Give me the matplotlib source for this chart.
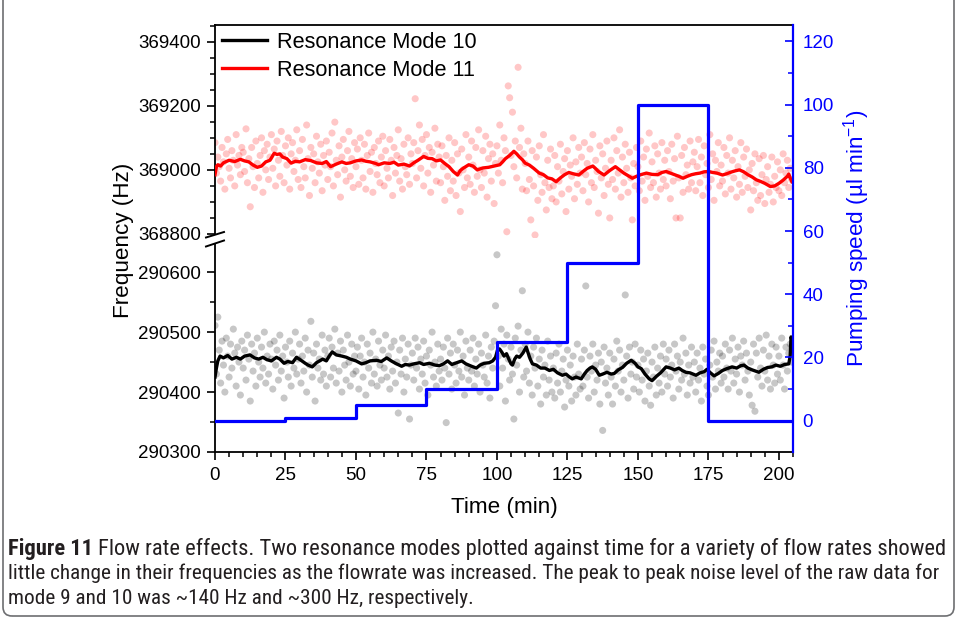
import numpy as np
import matplotlib
matplotlib.use("Agg")
import matplotlib.pyplot as plt
from matplotlib import font_manager
from matplotlib.patches import FancyBboxPatch, Polygon
from matplotlib.lines import Line2D
from matplotlib.ticker import MultipleLocator
from matplotlib.transforms import IdentityTransform

# ---------------- data ----------------
SAMPLE_STEP = 0.5  # min between raw samples

# Resonance mode 11 raw points (Hz)
MODE11_RAW = [
    369085, 368990, 369040, 369010, 368965, 369070, 369025, 368940, 369050, 369095, 369005, 368975, 369060, 369030, 368950, 369110, 369015, 369045, 368985, 369070,
    369055, 368995, 369128, 368960, 369035, 368885, 369070, 369010, 368945, 369090, 369020, 368975, 369045, 369100, 368930, 369060, 369000, 369080, 368970, 369040,
    369110, 369005, 369065, 368950, 369090, 369030, 368980, 369120, 369045, 368960, 369075, 369015, 369100, 368940, 369050, 369085, 368995, 369030, 369125, 368970,
    369060, 368945, 369095, 369010, 368975, 369140, 369035, 368920, 369070, 369005, 369050, 368960, 369105, 369025, 368990, 369080, 368935, 369045, 369015, 369090,
    368970, 369055, 369010, 369115, 368950, 369149, 369030, 368985, 369075, 368915, 369040, 369095, 369000, 368965, 369060, 369120, 368980, 369035, 368945, 369085,
    369010, 369065, 368955, 369100, 369030, 368975, 369080, 368940, 369045, 369115, 368995, 369055, 368930, 369070, 369020, 368985, 369090, 368960, 369040, 369105,
    368950, 369060, 369005, 368975, 369095, 369030, 368920, 369070, 368990, 369045, 369125, 368965, 369035, 368940, 369080, 369010, 368985, 369100, 368955, 369050,
    369020, 369085, 369222, 368975, 369060, 369140, 369005, 369095, 368950, 369045, 369110, 368990, 369070, 368930, 369055, 369015, 369130, 368965, 369080, 369040,
    368960, 369075, 369010, 368905, 369045, 368980, 369100, 368935, 369030, 368965, 369085, 368920, 369050, 368990, 368870, 369065, 369000, 368945, 369110, 368975,
    369040, 368955, 369090, 369015, 368930, 369070, 368980, 369125, 369000, 368945, 369060, 368990, 369105, 368915, 369035, 369080, 368965, 369050, 368895, 369020,
    369075, 368990, 369140, 369030, 368960, 369100, 369060, 368807, 369262, 369225, 369045, 369180, 369010, 369090, 368975, 369320, 369070, 369130, 368940, 369050,
    369020, 368935, 369090, 368970, 368844, 369060, 368950, 368797, 369040, 368905, 369075, 368985, 368930, 369110, 368960, 368875, 369030, 368945, 369065, 368910,
    368950, 369045, 368900, 369010, 368965, 369080, 368925, 368995, 369035, 368870, 369060, 368940, 369015, 368980, 369100, 368910, 369025, 368955, 369070, 368990,
    369040, 368935, 369085, 368985, 369020, 368900, 369065, 368960, 369110, 368945, 369030, 368995, 368865, 369075, 368975, 369050, 368920, 369005, 369090, 368955,
    368850, 369030, 368970, 369100, 368940, 369060, 368990, 369125, 368915, 369040, 368960, 369080, 369005, 368930, 369055, 368975, 368844, 369020, 368950, 369070,
    369010, 368935, 369090, 368965, 369040, 368905, 369065, 368980, 369115, 368945, 369025, 368960, 369075, 368915, 369050, 368990, 368940, 369085, 368970, 369030,
    368950, 369060, 368995, 368910, 369080, 368965, 369035, 368850, 369105, 368975, 368850, 369045, 368930, 369070, 368985, 369015, 368940, 369090, 368960, 369025,
    369055, 368935, 369010, 369095, 368960, 369040, 368920, 369075, 368985, 369020, 368945, 369110, 368970, 369050, 368905, 369030, 368995, 369085, 368950, 369015,
    368965, 369070, 368925, 369045, 368990, 369100, 368940, 369030, 368975, 369060, 368915, 369010, 368955, 369085, 368930, 369040, 368980, 369065, 368945, 369000,
    368875, 369020, 368935, 369050, 368960, 368905, 369035, 368920, 368985, 369045, 368895, 368970, 369010, 368930, 368955, 369040, 368900, 368980, 368945, 369025,
    368935, 369000, 368920, 369050, 368960, 368990, 369030, 368945, 369005, 368970,
]

# Resonance mode 10 raw points (Hz)
MODE10_RAW = [
    290511, 290430, 290525, 290470, 290415, 290485, 290445, 290400, 290490, 290460, 290425, 290480, 290440, 290505, 290465, 290410, 290475, 290450, 290395, 290485,
    290440, 290470, 290420, 290495, 290455, 290385, 290480, 290435, 290465, 290410, 290490, 290450, 290425, 290475, 290440, 290500, 290415, 290460, 290430, 290480,
    290455, 290405, 290485, 290445, 290470, 290420, 290495, 290435, 290460, 290390, 290475, 290450, 290425, 290485, 290410, 290465, 290440, 290500, 290430, 290455,
    290480, 290415, 290460, 290435, 290490, 290400, 290470, 290445, 290518, 290425, 290465, 290385, 290480, 290440, 290455, 290420, 290495, 290430, 290470, 290410,
    290460, 290490, 290425, 290475, 290440, 290505, 290415, 290465, 290435, 290485, 290400, 290470, 290445, 290420, 290495, 290450, 290410, 290480, 290430, 290460,
    290435, 290475, 290405, 290460, 290490, 290425, 290450, 290395, 290480, 290440, 290465, 290415, 290500, 290430, 290455, 290410, 290485, 290445, 290420, 290470,
    290440, 290495, 290425, 290460, 290405, 290475, 290435, 290485, 290415, 290450, 290365, 290470, 290430, 290490, 290400, 290455, 290425, 290480, 290355, 290445,
    290465, 290420, 290490, 290440, 290475, 290405, 290455, 290430, 290485, 290415, 290460, 290395, 290470, 290445, 290500, 290425, 290450, 290410, 290480, 290435,
    290455, 290420, 290475, 290440, 290349, 290490, 290430, 290465, 290405, 290480, 290445, 290415, 290470, 290435, 290500, 290425, 290460, 290395, 290485, 290440,
    290420, 290470, 290435, 290490, 290410, 290455, 290430, 290480, 290400, 290465, 290445, 290425, 290495, 290415, 290460, 290390, 290475, 290440, 290485, 290544,
    290629, 290460, 290410, 290505, 290440, 290480, 290385, 290495, 290455, 290420, 290475, 290430, 290355, 290490, 290445, 290510, 290400, 290470, 290569, 290425,
    290480, 290435, 290500, 290415, 290460, 290395, 290475, 290440, 290490, 290410, 290455, 290380, 290470, 290425, 290445, 290395, 290485, 290420, 290460, 290400,
    290440, 290390, 290465, 290415, 290480, 290400, 290435, 290455, 290375, 290420, 290470, 290410, 290445, 290385, 290460, 290425, 290395, 290480, 290430, 290405,
    290455, 290410, 290470, 290577, 290425, 290390, 290460, 290435, 290480, 290400, 290445, 290420, 290465, 290380, 290450, 290336, 290475, 290415, 290440, 290395,
    290465, 290425, 290380, 290455, 290410, 290485, 290435, 290470, 290400, 290445, 290420, 290562, 290460, 290390, 290475, 290430, 290450, 290405, 290480, 290425,
    290445, 290400, 290470, 290420, 290455, 290385, 290435, 290465, 290410, 290378, 290450, 290425, 290475, 290395, 290440, 290415, 290460, 290400, 290480, 290430,
    290455, 290410, 290470, 290425, 290445, 290390, 290480, 290435, 290460, 290405, 290450, 290420, 290490, 290430, 290465, 290395, 290445, 290415, 290475, 290425,
    290450, 290400, 290465, 290420, 290440, 290385, 290475, 290430, 290455, 290410, 290395, 290445, 290470, 290425, 290485, 290405, 290450, 290435, 290465, 290415,
    290460, 290425, 290480, 290440, 290405, 290470, 290435, 290490, 290415, 290455, 290430, 290475, 290400, 290460, 290445, 290485, 290420, 290465, 290435, 290395,
    290450, 290378, 290480, 290368, 290465, 290425, 290490, 290440, 290410, 290470, 290435, 290495, 290420, 290460, 290405, 290480, 290445, 290415, 290475, 290430,
    290460, 290420, 290490, 290445, 290405, 290475, 290435, 290465, 290480, 290450,
]

# Smoothed mode 11 (time min, Hz)
MODE11_SMOOTH_T = [0, 0.5, 1, 2, 3, 5, 7, 9, 10.5, 12, 13.5, 15, 16.5, 18, 19.5, 21, 22, 23, 24, 25.5,
                   27, 28.5, 30, 32, 34, 36, 38, 39.5, 41, 43, 45, 46.5, 48, 50, 52, 53.5, 55, 57, 58, 60,
                   62, 63.5, 65, 67, 69, 70.5, 72, 74, 75.5, 77, 78.5, 80, 81.5, 83, 84.5, 86, 87, 88, 90, 91.5,
                   93, 95, 97, 99, 101, 102, 103, 104.5, 106, 107, 108, 109, 110, 111.5, 113, 115, 116.5, 118, 119.5, 121,
                   122.5, 124, 125.5, 127, 129, 130.5, 132, 134, 135, 136, 138, 140, 142, 143.5, 145, 146.5, 148, 149.5, 151, 153,
                   155, 157, 158.5, 160, 161.5, 163, 164.5, 166, 167.5, 169, 170.5, 172, 173.5, 175, 176.5, 178, 180, 181.5, 183, 184.5,
                   186, 187.5, 189, 190.5, 192, 193.5, 195, 197, 198.5, 200, 201.5, 203, 203.5, 204, 204.6]
MODE11_SMOOTH_F = [368985, 369010, 369016, 369012, 369022, 369030, 369026, 369033, 369028, 369025, 369015, 369008, 369012, 369025, 369030, 369052, 369048, 369050, 369040, 369035,
                   369021, 369027, 369025, 369032, 369029, 369022, 369020, 369026, 369010, 369018, 369025, 369020, 369022, 369028, 369031, 369027, 369025, 369020, 369016, 369022,
                   369020, 369024, 369015, 369018, 369012, 369022, 369030, 369042, 369036, 369035, 369028, 369031, 369020, 369010, 368995, 368984, 368998, 369005, 369016, 369012,
                   369000, 369006, 369008, 369012, 369016, 369025, 369035, 369045, 369058, 369050, 369040, 369032, 369021, 369015, 369005, 368990, 368985, 368975, 368972, 368963,
                   368975, 368985, 368992, 368988, 368984, 368995, 369005, 369012, 369004, 368995, 368984, 368998, 369010, 369000, 368990, 368982, 368974, 368980, 368985, 368990,
                   368986, 368985, 368992, 368995, 368990, 368985, 368980, 368974, 368980, 368985, 368988, 368990, 368994, 368995, 368992, 368990, 368984, 368988, 368993, 368997,
                   369000, 368994, 368985, 368978, 368969, 368964, 368958, 368948, 368950, 368958, 368968, 368980, 368987, 368975, 368963]

# Smoothed mode 10 (time min, Hz)
MODE10_SMOOTH_T = [0, 0.5, 1, 1.8, 3, 4.5, 6, 7.6, 9, 10.5, 12.4, 14, 15.5, 17, 18.4, 20, 21.8, 23, 24.5, 25.8,
                   27.5, 28.9, 30.5, 32, 33, 34.5, 36, 38.2, 39.5, 40.5, 41.6, 43, 45, 46.6, 48, 50, 52, 53.5, 55, 57.3,
                   59, 60.9, 62.5, 64, 66.2, 67.5, 69, 70.5, 72.6, 74, 76, 78, 79.6, 81, 82.5, 84, 85.7, 87.5, 89, 91,
                   92.7, 94, 95.5, 97.3, 98.5, 99.5, 100.2, 100.9, 101.8, 102.5, 103.4, 104.2, 105, 105.5, 106.3, 107, 108, 109.2, 110.4, 111,
                   111.8, 112.6, 114, 115.5, 117, 118.6, 120, 121.5, 123.2, 124.5, 125.5, 126.7, 128, 129.9, 131, 132, 133, 133.8, 135, 136.3,
                   137.5, 139, 140.5, 141.6, 143, 144.5, 146, 147.6, 149, 150, 151.2, 152.5, 154, 155, 156.5, 158, 160, 161.5, 163, 164.5,
                   165.7, 167, 168.5, 170.6, 172, 173.5, 174.5, 175.5, 177, 178.5, 180, 181.5, 183.4, 185, 186.5, 187.6, 189, 190.5, 192.9, 194.5,
                   196, 197.5, 198.9, 200.5, 202, 203.5, 204, 204.3, 204.6]
MODE10_SMOOTH_F = [290425, 290440, 290452, 290460, 290457, 290461, 290455, 290458, 290455, 290460, 290462, 290457, 290455, 290458, 290454, 290452, 290458, 290455, 290448, 290451,
                   290449, 290458, 290453, 290448, 290445, 290442, 290449, 290455, 290452, 290460, 290467, 290462, 290460, 290458, 290455, 290452, 290447, 290449, 290452, 290453,
                   290451, 290457, 290452, 290448, 290443, 290446, 290445, 290447, 290449, 290446, 290448, 290445, 290444, 290447, 290452, 290446, 290449, 290452, 290447, 290443,
                   290440, 290445, 290448, 290449, 290452, 290458, 290470, 290472, 290466, 290460, 290464, 290455, 290447, 290445, 290455, 290460, 290458, 290465, 290475, 290466,
                   290455, 290447, 290445, 290440, 290440, 290436, 290438, 290432, 290428, 290430, 290426, 290422, 290425, 290422, 290430, 290436, 290440, 290442, 290438, 290428,
                   290430, 290433, 290430, 290431, 290437, 290441, 290448, 290453, 290448, 290442, 290439, 290430, 290422, 290419, 290426, 290432, 290442, 290440, 290437, 290440,
                   290436, 290433, 290432, 290428, 290432, 290434, 290438, 290433, 290427, 290431, 290436, 290439, 290442, 290440, 290444, 290445, 290440, 290437, 290433, 290438,
                   290441, 290442, 290445, 290443, 290446, 290447, 290460, 290492, 290488]

# Pumping speed steps (µl/min), value holds from each start time
PUMP_T = [0, 25, 50, 75, 100, 125, 150, 175, 205]
PUMP_SPEED = [0, 1, 5, 10, 25, 50, 100, 0, 0]

LEGEND_LABELS = ["Resonance Mode 10", "Resonance Mode 11"]
CAPTION_BOLD = "Figure 11"
CAPTION_LINES = [
    "Flow rate effects. Two resonance modes plotted against time for a variety of flow rates showed",
    "little change in their frequencies as the flowrate was increased. The peak to peak noise level of the raw data for",
    "mode 9 and 10 was ~140 Hz and ~300 Hz, respectively.",
]

# ---------------- layout ----------------
W, H = 957, 619
plt.rcParams['font.family'] = ['Liberation Sans', 'DejaVu Sans']
plt.rcParams['mathtext.default'] = 'regular'

fig = plt.figure(figsize=(W / 100, H / 100), dpi=100)


def fx(px):
    return px / W


def fy(py):
    return 1 - py / H


L, R = 215, 793
TOP, BRK, BOT = 25, 238, 452
XLIM = (0, 205)
TOP_YLIM = (368787.5, 369452)
BOT_YLIM = (290300, 290657)
R_YLIM = (-9.9, 125.2)

ax_top = fig.add_axes([fx(L), fy(BRK), fx(R) - fx(L), fy(TOP) - fy(BRK)])
ax_bot = fig.add_axes([fx(L), fy(BOT), fx(R) - fx(L), fy(BRK) - fy(BOT)])
ax_r = fig.add_axes([fx(L), fy(BOT), fx(R) - fx(L), fy(TOP) - fy(BOT)])
ax_r.patch.set_visible(False)

t11 = np.arange(len(MODE11_RAW)) * SAMPLE_STEP
t10 = np.arange(len(MODE10_RAW)) * SAMPLE_STEP

ax_top.scatter(t11, MODE11_RAW, s=26, color='red', alpha=0.22, edgecolors='none', zorder=2)
ax_top.plot(MODE11_SMOOTH_T, MODE11_SMOOTH_F, color='red', lw=2.4, zorder=3)
ax_bot.scatter(t10, MODE10_RAW, s=26, color='black', alpha=0.22, edgecolors='none', zorder=2)
ax_bot.plot(MODE10_SMOOTH_T, MODE10_SMOOTH_F, color='black', lw=2.4, zorder=3)
ax_r.step(PUMP_T, PUMP_SPEED, where='post', color='blue', lw=2.3, zorder=4)

for ax in (ax_top, ax_bot, ax_r):
    ax.set_xlim(*XLIM)
ax_top.set_ylim(*TOP_YLIM)
ax_bot.set_ylim(*BOT_YLIM)
ax_r.set_ylim(*R_YLIM)

SP_LW = 1.3
# top axes
ax_top.spines['bottom'].set_visible(False)
ax_top.spines['right'].set_visible(False)
ax_top.spines['top'].set_linewidth(SP_LW)
ax_top.spines['left'].set_linewidth(SP_LW)
ax_top.tick_params(axis='x', which='both', bottom=False, labelbottom=False)
ax_top.yaxis.set_major_locator(MultipleLocator(200))
ax_top.yaxis.set_minor_locator(MultipleLocator(50))

# bottom axes
ax_bot.spines['top'].set_visible(False)
ax_bot.spines['right'].set_visible(False)
ax_bot.spines['bottom'].set_linewidth(SP_LW)
ax_bot.spines['left'].set_linewidth(SP_LW)
ax_bot.yaxis.set_major_locator(MultipleLocator(100))
ax_bot.yaxis.set_minor_locator(MultipleLocator(50))
ax_bot.xaxis.set_major_locator(MultipleLocator(25))
ax_bot.xaxis.set_minor_locator(MultipleLocator(5))

for ax in (ax_top, ax_bot):
    ax.tick_params(axis='y', which='major', direction='out', length=6, width=1.2, labelsize=13.5, pad=4)
    ax.tick_params(axis='y', which='minor', direction='out', length=3.5, width=1.1)
ax_bot.tick_params(axis='x', which='major', direction='out', length=6, width=1.2, labelsize=13.5, pad=5)
ax_bot.tick_params(axis='x', which='minor', direction='out', length=3.5, width=1.1)

# right axes
for s in ('left', 'top', 'bottom'):
    ax_r.spines[s].set_visible(False)
ax_r.spines['right'].set_color('blue')
ax_r.spines['right'].set_linewidth(SP_LW + 0.3)
ax_r.tick_params(axis='x', which='both', bottom=False, labelbottom=False)
ax_r.yaxis.tick_right()
ax_r.yaxis.set_major_locator(MultipleLocator(20))
ax_r.yaxis.set_minor_locator(MultipleLocator(10))
ax_r.tick_params(axis='y', which='major', direction='in', length=6, width=1.2, colors='blue', labelsize=13.5, pad=7)
ax_r.tick_params(axis='y', which='minor', direction='in', length=3.5, width=1.1, colors='blue')

# axis break marks
brk_patch = Polygon([(fx(206), fy(237.5)), (fx(224), fy(232)), (fx(224), fy(240.5)), (fx(206), fy(246.5))],
                    closed=True, transform=fig.transFigure, facecolor='white', edgecolor='none', zorder=5)
fig.add_artist(brk_patch)
for y0, y1 in ((237.5, 232), (246.5, 240.5)):
    fig.add_artist(Line2D([fx(206), fx(224)], [fy(y0), fy(y1)], transform=fig.transFigure,
                          color='black', lw=1.4, zorder=6))

# legend
handles = [Line2D([], [], color='black', lw=2.4), Line2D([], [], color='red', lw=2.4)]
fig.legend(handles, LEGEND_LABELS, loc='upper left', bbox_to_anchor=(fx(222), fy(32)),
           frameon=False, fontsize=15.7, handlelength=2.05, handletextpad=0.45,
           labelspacing=0.3, borderpad=0, borderaxespad=0)

# axis labels
fig.text(fx(123), fy(240), 'Frequency (Hz)', rotation=90, ha='center', va='center', fontsize=16.2)
fig.text(fx(857), fy(238), 'Pumping speed (\u00b5l min$^{-1}$)', rotation=90, ha='center', va='center',
         fontsize=16.2, color='blue')
fig.text(fx(504), fy(508), 'Time (min)', ha='center', va='center', fontsize=16.2)

# outer rounded frame (top edge lies outside the image)
frame = FancyBboxPatch((3, 3), 951, 640, boxstyle='round,pad=0,rounding_size=9',
                       transform=IdentityTransform(), facecolor='none', edgecolor='#6d6e71', lw=1.2)
fig.add_artist(frame)

# caption
names = {f.name for f in font_manager.fontManager.ttflist}
cap_font = 'Liberation Sans'
for cand in ('Liberation Sans Narrow', 'Roboto Condensed', 'Open Sans Condensed', 'Liberation Sans'):
    if cand in names:
        cap_font = cand
        break
CAP_COLOR = '#231f20'
renderer = fig.canvas.get_renderer()
cap_y = [549, 573, 598]
probe = fig.text(fx(8), fy(cap_y[1]), CAPTION_LINES[1], fontsize=12, family=cap_font, va='center', color=CAP_COLOR)
w = probe.get_window_extent(renderer).width
cap_size = 12 * 934 / w
probe.set_fontsize(cap_size)
fig.text(fx(8), fy(cap_y[2]), CAPTION_LINES[2], fontsize=cap_size, family=cap_font, va='center', color=CAP_COLOR)

# first line: bold lead-in + regular text, fitted to its own width
tb = fig.text(fx(8), fy(cap_y[0]), CAPTION_BOLD, fontsize=cap_size, family=cap_font, weight='bold',
              va='center', color=CAP_COLOR)
t1 = fig.text(0, fy(cap_y[0]), CAPTION_LINES[0], fontsize=cap_size, family=cap_font,
              va='center', color=CAP_COLOR)
for _ in range(3):
    bw = tb.get_window_extent(renderer).width
    rw = t1.get_window_extent(renderer).width
    cur = tb.get_fontsize()
    total = bw + cur * 0.3 + rw
    s1 = cur * 932 / total
    tb.set_fontsize(s1)
    t1.set_fontsize(s1)
bw = tb.get_window_extent(renderer).width
t1.set_x(fx(8 + bw + s1 * 0.3))

fig.savefig('out.png', dpi=100, facecolor='white')
